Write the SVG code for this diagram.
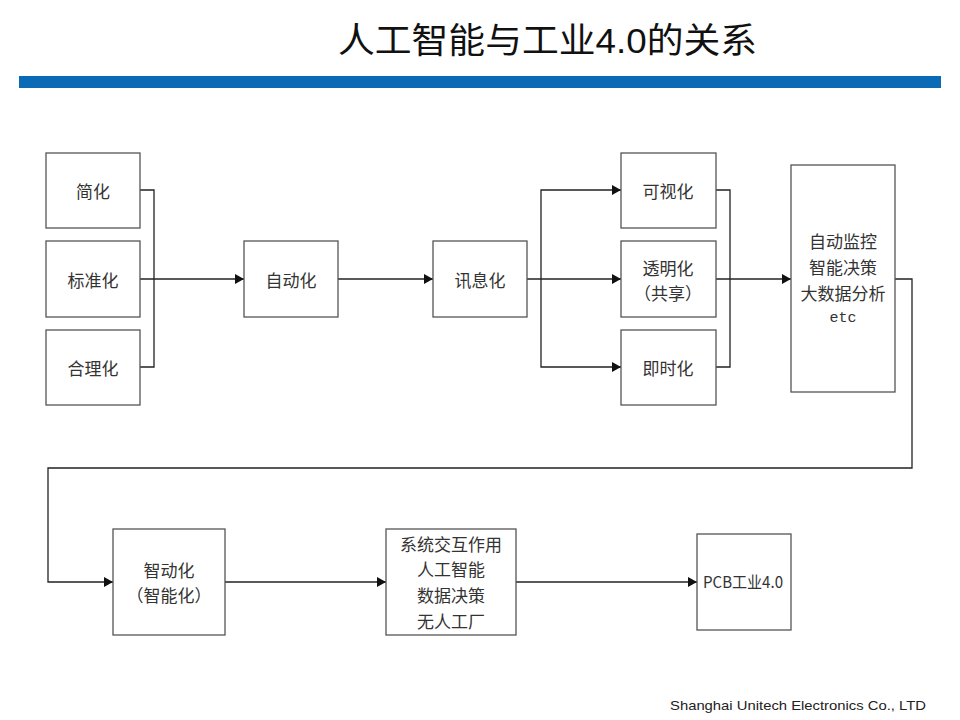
<svg xmlns="http://www.w3.org/2000/svg" width="960" height="720" viewBox="0 0 960 720">
<style>
.box{fill:#fff;stroke:#555;stroke-width:1.3}
.t{font-family:"Noto Sans CJK SC","Liberation Sans",sans-serif;font-size:17px;fill:#333;text-anchor:middle;dominant-baseline:central}
.c{fill:none;stroke:#222;stroke-width:1.3}
</style>
<defs>
<marker id="ah" markerUnits="userSpaceOnUse" markerWidth="9" markerHeight="10" refX="9" refY="5" orient="auto">
<path d="M0,0 L9,5 L0,10 z" fill="#111"/>
</marker>
</defs>
<rect width="960" height="720" fill="#fff"/>
<text x="338" y="53" font-family="'Liberation Sans','Noto Sans CJK SC',sans-serif" font-size="35" fill="#111" textLength="419" lengthAdjust="spacingAndGlyphs">人工智能与工业4.0的关系</text>
<rect x="19" y="76" width="922" height="12" fill="#0a6ab5"/>

<g id="connectors">
<path class="c" d="M140,190 H154 V367 H140"/>
<path class="c" d="M140,279 H244" marker-end="url(#ah)"/>
<path class="c" d="M338,279 H433" marker-end="url(#ah)"/>
<path class="c" d="M527,279 H621" marker-end="url(#ah)"/>
<path class="c" d="M541,279 V190 H621" marker-end="url(#ah)"/>
<path class="c" d="M541,279 V367 H621" marker-end="url(#ah)"/>
<path class="c" d="M716,190 H730 V367 H716"/>
<path class="c" d="M716,279 H791" marker-end="url(#ah)"/>
<path class="c" d="M895,279 H912 V468 H48 V582 H113" marker-end="url(#ah)"/>
<path class="c" d="M225,582 H386" marker-end="url(#ah)"/>
<path class="c" d="M516,582 H697" marker-end="url(#ah)"/>
</g>

<g id="n-jianhua"><rect class="box" x="46" y="153" width="94" height="75"/><text class="t" x="93" y="190">简化</text></g>
<g id="n-biaozhunhua"><rect class="box" x="46" y="241" width="94" height="76"/><text class="t" x="93" y="279">标准化</text></g>
<g id="n-helihua"><rect class="box" x="46" y="330" width="94" height="75"/><text class="t" x="93" y="367">合理化</text></g>
<g id="n-zidonghua"><rect class="box" x="244" y="241" width="94" height="76"/><text class="t" x="291" y="279">自动化</text></g>
<g id="n-xunxihua"><rect class="box" x="433" y="241" width="94" height="76"/><text class="t" x="480" y="279">讯息化</text></g>
<g id="n-keshihua"><rect class="box" x="621" y="153" width="95" height="75"/><text class="t" x="668" y="190">可视化</text></g>
<g id="n-toumignhua"><rect class="box" x="621" y="241" width="95" height="76"/><text class="t" x="668" y="267">透明化</text><text class="t" x="668" y="292">（共享）</text></g>
<g id="n-jishihua"><rect class="box" x="621" y="330" width="95" height="75"/><text class="t" x="668" y="367">即时化</text></g>
<g id="n-jiankong"><rect class="box" x="791" y="165" width="104" height="227"/>
<text class="t" x="843" y="240">自动监控</text><text class="t" x="843" y="266">智能决策</text><text class="t" x="843" y="292">大数据分析</text>
<text class="t" x="843" y="318" style="font-family:'Liberation Mono',monospace;font-size:15px">etc</text></g>
<g id="n-zhidonghua"><rect class="box" x="113" y="529" width="112" height="106"/><text class="t" x="169" y="569">智动化</text><text class="t" x="169" y="594">（智能化）</text></g>
<g id="n-xitong"><rect class="box" x="386" y="529" width="130" height="106"/>
<text class="t" x="451" y="543">系统交互作用</text><text class="t" x="451" y="568">人工智能</text><text class="t" x="451" y="594">数据决策</text><text class="t" x="451" y="620">无人工厂</text></g>
<g id="n-pcb"><rect class="box" x="697" y="534" width="94" height="96"/><text class="t" x="743" y="581" style="font-size:16px" textLength="80" lengthAdjust="spacingAndGlyphs">PCB工业4.0</text></g>

<text x="670" y="710" font-family="'Liberation Sans',sans-serif" font-size="13.5" fill="#222" textLength="256" lengthAdjust="spacingAndGlyphs">Shanghai Unitech Electronics  Co., LTD</text>
</svg>
